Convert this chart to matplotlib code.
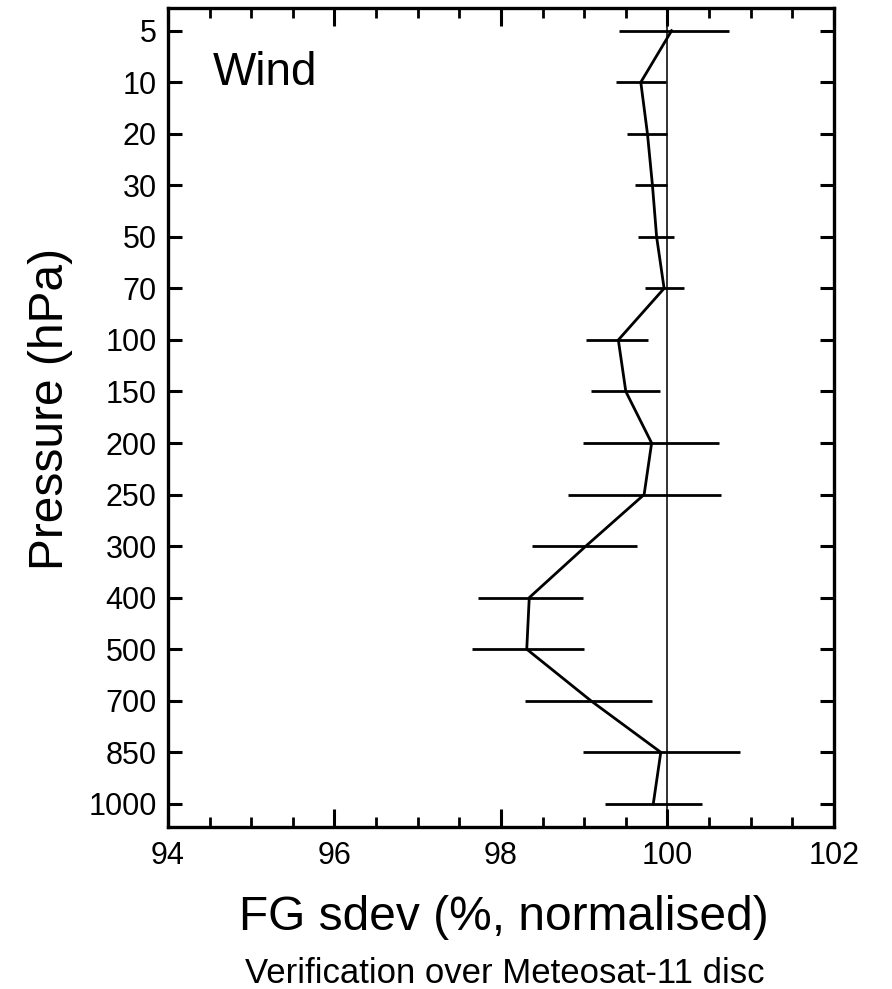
import matplotlib.pyplot as plt
import numpy as np

plt.rcParams['font.family'] = ['Liberation Sans', 'DejaVu Sans']

# pressure levels (hPa), plotted evenly spaced
levels = ['5', '10', '20', '30', '50', '70', '100', '150', '200', '250',
          '300', '400', '500', '700', '850', '1000']
# normalised FG sdev (%) and error bar bounds
sdev = [100.05, 99.68, 99.76, 99.82, 99.87, 99.96, 99.41, 99.50, 99.81, 99.72,
        99.02, 98.34, 98.31, 99.08, 99.92, 99.83]
err_lo = [99.42, 99.38, 99.51, 99.61, 99.65, 99.73, 99.02, 99.08, 98.99, 98.80,
          98.37, 97.72, 97.65, 98.29, 98.98, 99.25]
err_hi = [100.74, 99.98, 99.99, 99.99, 100.08, 100.20, 99.77, 99.91, 100.62, 100.64,
          99.64, 98.98, 99.00, 99.81, 100.87, 100.41]

ypos = np.arange(len(levels))

fig = plt.figure(figsize=(8.92, 9.89), dpi=100)
ax = fig.add_axes([0.1883, 0.1638, 0.7466, 0.8286])

ax.axvline(100, color='#222222', lw=1.3, zorder=1)
ax.hlines(ypos, err_lo, err_hi, color='black', lw=2.0, zorder=2)
ax.plot(sdev, ypos, color='black', lw=2.0, zorder=3)

ax.set_xlim(94, 102)
ax.set_ylim(len(levels) - 0.55, -0.45)
ax.set_xticks([94, 96, 98, 100, 102])
ax.set_xticks(np.arange(94, 102.01, 0.5), minor=True)
ax.set_yticks(ypos)
ax.set_yticklabels(levels)

for s in ax.spines.values():
    s.set_linewidth(2.4)
ax.tick_params(which='major', direction='in', length=10, width=2.2,
               top=True, right=True, labelsize=22, pad=8)
ax.tick_params(axis='x', which='major', length=13, pad=10)
ax.tick_params(which='minor', direction='in', length=7, width=2.0, top=True)

ax.text(0.068, 0.905, 'Wind', transform=ax.transAxes, fontsize=33,
        ha='left', va='baseline')

ax.set_ylabel('Pressure (hPa)', fontsize=34.5, va='center')
ax.yaxis.set_label_coords(-0.177, 0.51)
ax.set_xlabel('FG sdev (%, normalised)', fontsize=34.5, va='baseline')
ax.xaxis.set_label_coords(0.504, -0.1256)
fig.text(0.5655, 1 - 983 / 989, 'Verification over Meteosat-11 disc',
         fontsize=25, ha='center', va='baseline')

fig.savefig('out.png', dpi=100)
